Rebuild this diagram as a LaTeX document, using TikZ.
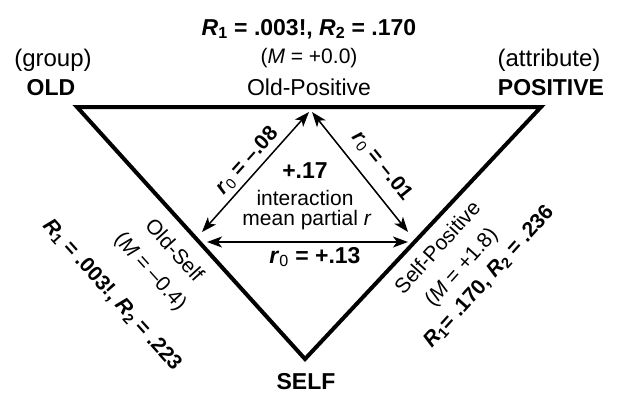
\documentclass[tikz,border=0pt]{standalone}
\usepackage{fontspec}
\setmainfont{Liberation Sans}
\usetikzlibrary{arrows.meta}
\tikzset{
  lbl/.style={inner sep=0pt, anchor=base, font=\fontsize{23}{26}\selectfont},
  bld/.style={lbl, font=\fontsize{23}{26}\selectfont\bfseries},
  mid/.style={lbl, font=\fontsize{21}{24}\selectfont},
  rot/.style={inner sep=0pt, anchor=center, font=\fontsize{21}{24}\selectfont},
  rotb/.style={inner sep=0pt, anchor=center, font=\fontsize{21}{24}\selectfont\bfseries},
  tri/.style={line width=4pt, line join=miter},
  dbl/.style={line width=1.5pt, {Stealth[length=15pt,width=11pt,inset=4pt]}-{Stealth[length=15pt,width=11pt,inset=4pt]}}
}
\newcommand{\RR}[1]{\textit{R}\textsubscript{#1}}
\newcommand{\rz}{\textit{r}\textsubscript{\normalfont 0}}
\begin{document}
\begin{tikzpicture}[x=1pt,y=-1pt]
\useasboundingbox (0,0) rectangle (618,394);
% triangle corners
\coordinate (cOld) at (77,107);
\coordinate (cPos) at (541,107);
\coordinate (cSelf) at (305,359);
\draw[tri] (cOld) -- (cPos) -- (cSelf) -- cycle;
% arrow ends
\coordinate (aTopL) at (309,112);
\coordinate (aTopR) at (312,112);
\coordinate (aLeftD) at (202,232);
\coordinate (aRightD) at (408,232);
\coordinate (aLeftH) at (207,242);
\coordinate (aRightH) at (408,242);
\draw[dbl] (aLeftD) -- (aTopL);
\draw[dbl] (aTopR) -- (aRightD);
\draw[dbl] (aLeftH) -- (aRightH);
% top labels
\node[bld] (topR) at (309,35) {\RR{1} = .003!, \RR{2} = .170};
\node[lbl, font=\fontsize{21}{24}\selectfont] (topM) at (309,63) {(\textit{M} = +0.0)};
\node[lbl] (topN) at (309,95) {Old-Positive};
\node[lbl, font=\fontsize{24}{26}\selectfont] (grp) at (53,66) {(group)};
\node[bld] (old) at (51,95) {OLD};
\node[lbl, font=\fontsize{24}{26}\selectfont] (attr) at (549,66) {(attribute)};
\node[bld] (pos) at (551,95) {POSITIVE};
\node[bld] (self) at (306,389) {SELF};
% centre
\node[bld] (c1) at (305,178) {+.17};
\node[mid] (c2) at (305,205) {interaction};
\node[mid] (c3) at (307,225) {mean partial \textit{r}};
\node[bld] (r13) at (315,263) {\rz{} = +.13};
\node[rotb, rotate=48] (r08) at (247,161) {\rz{} = –.08};
\node[rotb, rotate=-51] (r01) at (382,166) {\rz{} = –.01};
% left side
\node[rot, rotate=-48] (osN) at (175,250) {Old-Self};
\node[rot, rotate=-48] (osM) at (150,272) {(\textit{M} = –0.4)};
\node[rotb, rotate=-48] (osR) at (112,295) {\RR{1} = .003!, \RR{2} = .223};
% right side
\node[rot, rotate=48] (spN) at (437,247) {Self-Positive};
\node[rot, rotate=48] (spM) at (462,268) {(\textit{M} = +1.8)};
\node[rotb, rotate=48] (spR) at (489,277) {\RR{1}= .170, \RR{2} = .236};
\end{tikzpicture}
\end{document}
